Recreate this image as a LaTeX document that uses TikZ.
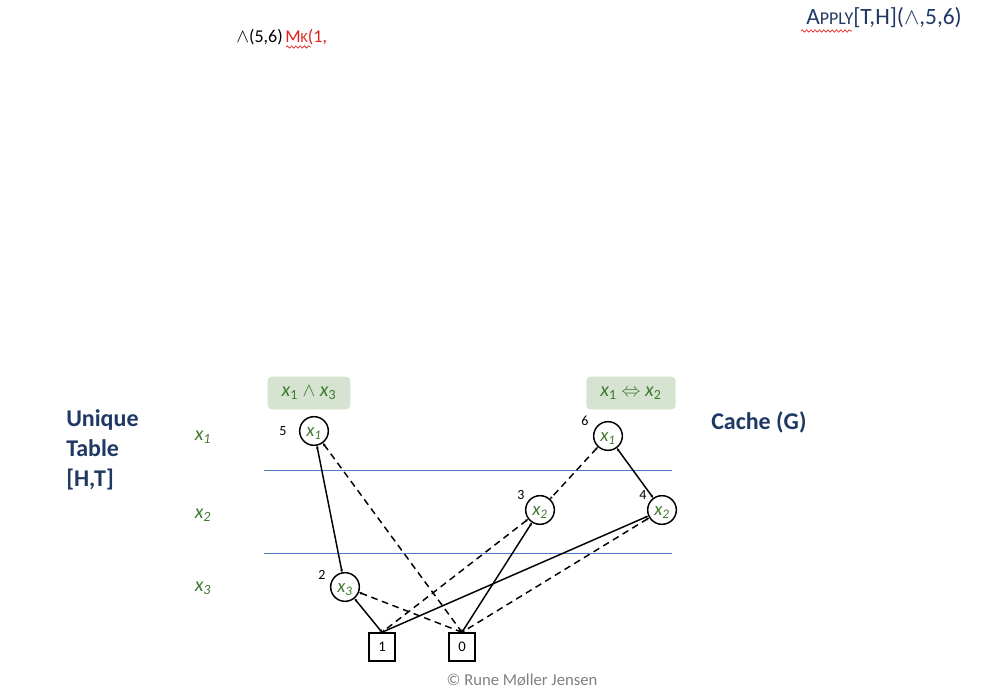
\documentclass[tikz,border=0pt]{standalone}
\usepackage{fontspec}
\setmainfont{Carlito}
\usetikzlibrary{arrows.meta,decorations.pathmorphing}
\definecolor{navy}{HTML}{1F3864}
\definecolor{vgreen}{HTML}{3F7A30}
\definecolor{boxgreen}{HTML}{D5E3D0}
\definecolor{lineblue}{HTML}{4A7CC4}
\definecolor{wavyred}{HTML}{E0201C}
\begin{document}
\begin{tikzpicture}[x=0.75pt,y=-0.75pt,
  bdd/.style={circle,draw,line width=1.1pt,minimum size=21.5pt,inner sep=0pt,text height=8.5pt,text depth=0pt,font=\fontsize{14}{15}\selectfont\itshape,text=vgreen},
  term/.style={draw,line width=1.1pt,minimum width=19.5pt,minimum height=21pt,inner sep=0pt,font=\fontsize{11}{13}\selectfont},
  num/.style={font=\fontsize{10.5}{12}\selectfont},
  varlbl/.style={font=\fontsize{15}{18}\selectfont\itshape,text=vgreen},
  titlebox/.style={fill=boxgreen,rounded corners=3pt,minimum width=62pt,minimum height=24.5pt,inner sep=2pt,font=\fontsize{15}{18}\selectfont,text=vgreen},
  head/.style={font=\fontsize{18}{22.5}\selectfont\bfseries,text=navy,align=left},
  hi/.style={line width=1.1pt,{Stealth[length=2.2pt,width=2.2pt]}-{Stealth[length=2.2pt,width=2.2pt]}},
  lo/.style={hi,dashed,dash pattern=on 5pt off 3.5pt},
  sep/.style={draw=lineblue,line width=0.5pt},
  wavy/.style={draw=wavyred,line width=0.5pt,decorate,decoration={snake,amplitude=0.9pt,segment length=3.2pt}}
]
\useasboundingbox (0,0) rectangle (982,698);

% top texts
\node[anchor=west,inner sep=0pt,font=\fontsize{13.5}{15}\selectfont] (op) at (236,37) {$\wedge$(5,6)};
\node[anchor=west,inner sep=0pt,font=\fontsize{13.5}{15}\selectfont,text=wavyred] (mk) at (285,37) {M{\fontsize{10.5}{12}\selectfont K}(1,};
\coordinate (mkw1) at (286,47);
\coordinate (mkw2) at (311,47);
\draw[wavy] (mkw1) -- (mkw2);

\node[anchor=east,inner sep=0pt,font=\fontsize{17.5}{20}\selectfont,text=navy] (apply) at (962,18) {A{\fontsize{13.5}{15}\selectfont PPLY}[T,H]($\wedge$,5,6)};
\coordinate (apw1) at (801,31);
\coordinate (apw2) at (852,31);
\draw[wavy] (apw1) -- (apw2);

% headings
\node[head,anchor=north west,inner sep=0pt] (ut) at (66,409) {Unique\\Table\\{[H,T]}};
\node[head,anchor=west,inner sep=0pt] (cache) at (711,422) {Cache (G)};

% variable labels
\node[varlbl] (l1) at (203,437) {x\textsubscript{1}};
\node[varlbl] (l2) at (203,515) {x\textsubscript{2}};
\node[varlbl] (l3) at (203,588) {x\textsubscript{3}};

% title boxes
\node[titlebox] (t1) at (309,393) {\textit{x}\textsubscript{1} $\wedge$ \textit{x}\textsubscript{3}};
\node[titlebox,minimum width=67pt] (t2) at (631,393) {\textit{x}\textsubscript{1} $\Leftrightarrow$ \textit{x}\textsubscript{2}};

% separators
\coordinate (s1a) at (264,470); \coordinate (s1b) at (672,470);
\coordinate (s2a) at (264,553); \coordinate (s2b) at (672,553);
\draw[sep] (s1a) -- (s1b);
\draw[sep] (s2a) -- (s2b);

% nodes
\node[bdd] (n5) at (314,431) {x\textsubscript{1}};
\node[num] (k5) at (283,431) {5};
\node[bdd] (n6) at (608,436) {x\textsubscript{1}};
\node[num] (k6) at (585,421) {6};
\node[bdd] (n3) at (540,510) {x\textsubscript{2}};
\node[num] (k3) at (521,495) {3};
\node[bdd] (n4) at (662,510) {x\textsubscript{2}};
\node[num] (k4) at (643,495) {4};
\node[bdd] (n2) at (345,587) {x\textsubscript{3}};
\node[num] (k2) at (322,575) {2};
\node[term] (b1) at (382,647) {1};
\node[term] (b0) at (462,647) {0};

% edges
\draw[hi] (n5) -- (n2);
\draw[lo] (n5) -- (b0.north);
\draw[lo] (n6) -- (n3);
\draw[hi] (n6) -- (n4);
\draw[lo] (n3) -- (b1.north);
\draw[hi] (n3) -- (b0.north);
\draw[hi] (n4) -- (b1.north);
\draw[lo] (n4) -- (b0.north);
\draw[hi] (n2) -- (b1.north);
\draw[lo] (n2) -- (b0.north);

% copyright
\node[font=\fontsize{12.5}{14}\selectfont,text=gray] (copy) at (522,680) {© Rune Møller Jensen};
\end{tikzpicture}
\end{document}
